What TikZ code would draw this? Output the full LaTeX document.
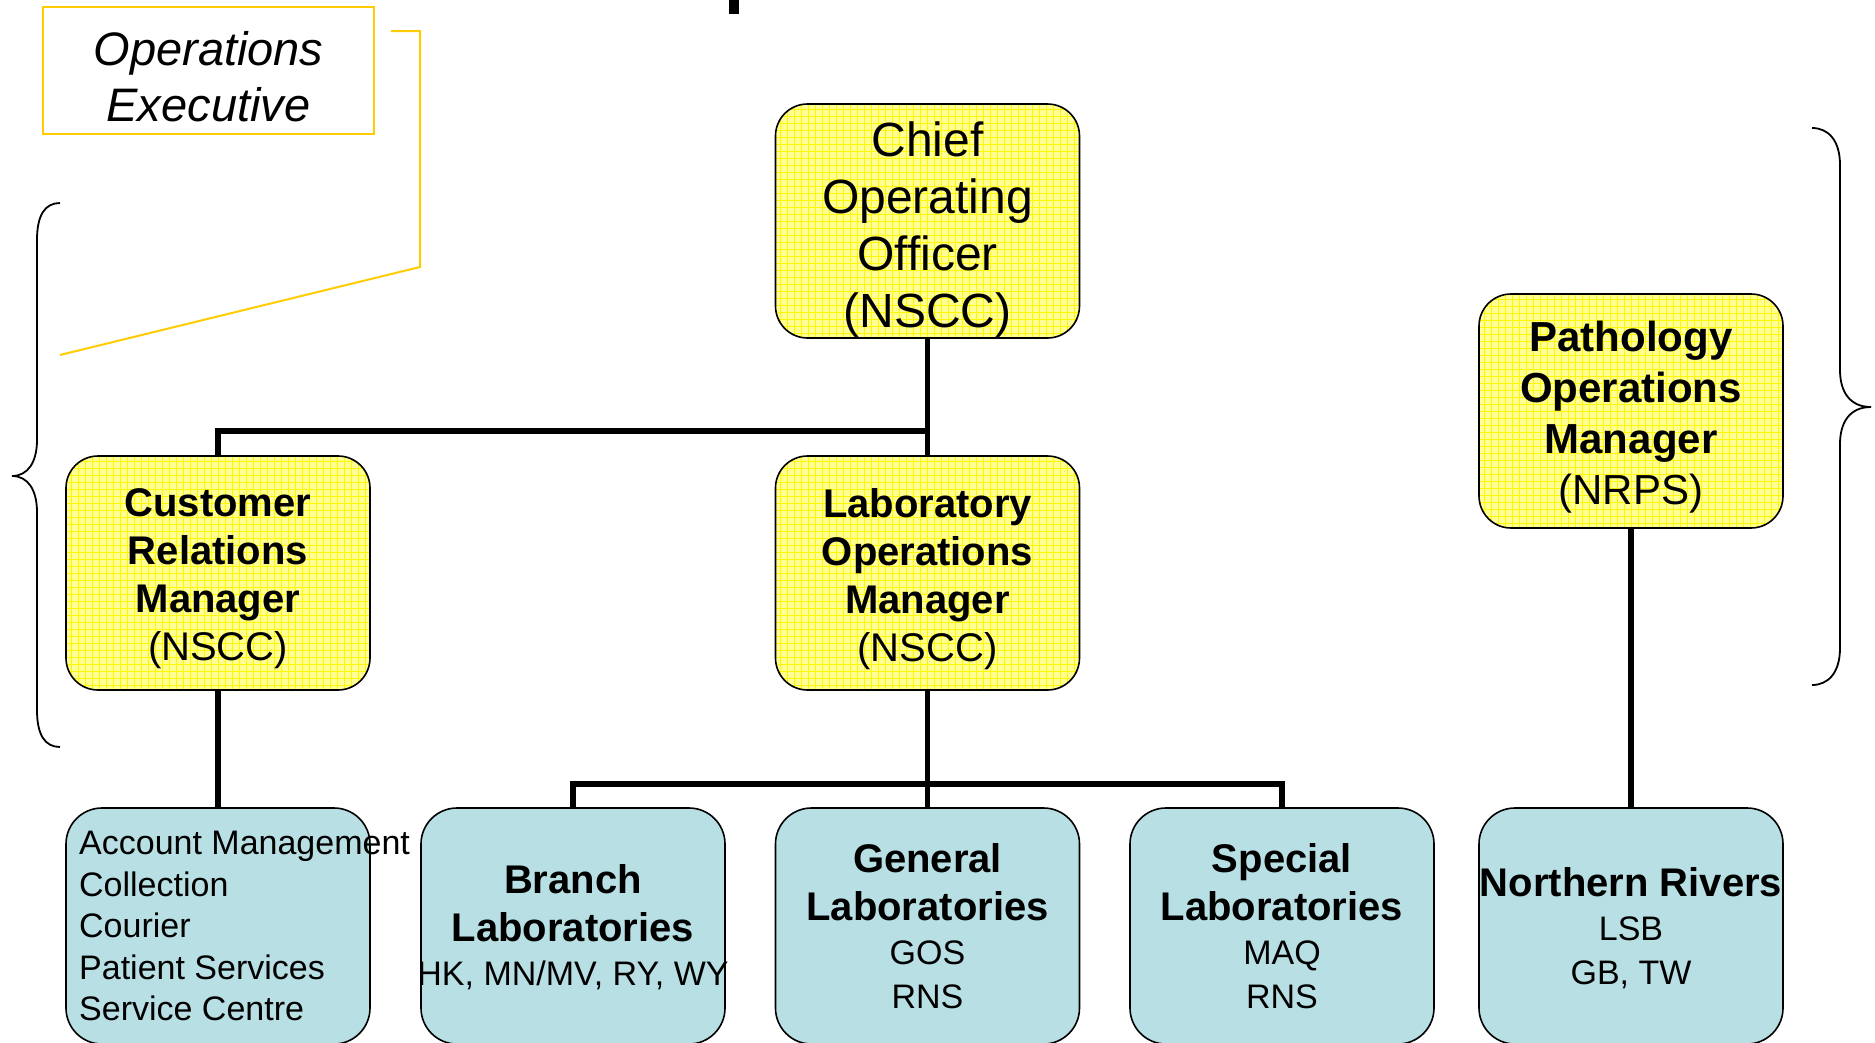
\documentclass[tikz,border=0pt]{standalone}
\usepackage{fontspec}
\setmainfont{Liberation Sans}
\definecolor{yfill}{RGB}{255,255,150}
\definecolor{ygrid}{RGB}{255,248,0}
\definecolor{bfill}{RGB}{184,223,227}
\definecolor{gold}{RGB}{255,204,0}
\begin{document}
\begin{tikzpicture}[x=1pt,y=-1pt,
  ybox/.style={draw=black,line width=1.6pt,rounded corners=32pt,fill=yfill,
    minimum width=304pt,minimum height=234pt,inner sep=0pt,
    path picture={\draw[ygrid,line width=0.6pt] (path picture bounding box.south west) grid[step=7pt] (path picture bounding box.north east);}},
  bbox/.style={draw=black,line width=1.6pt,rounded corners=36pt,fill=bfill,
    minimum width=304pt,minimum height=236pt,inner sep=0pt},
  txt/.style={inner sep=0pt,align=center},
  btxt/.style={inner sep=0pt,align=center,font=\fontsize{34}{44}\selectfont},
  conn/.style={line width=5.5pt,line join=miter},
  bracepath/.style={line width=1.8pt},
  callout/.style={draw=gold,line width=2pt}]
\useasboundingbox (0,0) rectangle (1875,1042);
\clip (0,0) rectangle (1875,1042);
\fill[white] (0,0) rectangle (1875,1042);

% stray mark from cut-off title
\fill[black] (729,0) rectangle (739,14);

% Operations Executive callout
\node[callout,fill=white,minimum width=331pt,minimum height=127pt,inner sep=0pt] (opsexec) at (208.5,70.5) {};
\node[txt,font=\fontsize{47}{56}\selectfont\itshape,yshift=-6pt] (opsexectext) at (opsexec) {Operations\\Executive};
\draw[callout] (391,31) -- (420,31) -- (420,267) -- (60,355);

% braces
\draw[bracepath] (60,203) .. controls (45,203) and (37,215) .. (37,240) -- (37,440)
  .. controls (37,462) and (28,476) .. (12,476) .. controls (28,476) and (37,490) .. (37,512)
  -- (37,710) .. controls (37,735) and (45,747) .. (60,747);
\draw[bracepath] (1812,128) .. controls (1828,128) and (1840,140) .. (1840,165) -- (1840,370)
  .. controls (1840,392) and (1850,407) .. (1871,407) .. controls (1850,407) and (1840,422) .. (1840,444)
  -- (1840,648) .. controls (1840,673) and (1828,685) .. (1812,685);

% yellow boxes
\node[ybox] (coo) at (927.5,221) {};
\node[ybox] (crm) at (218,573) {};
\node[ybox] (lom) at (927.5,573) {};
\node[ybox] (pom) at (1631,411) {};
\node[txt,font=\fontsize{48}{57}\selectfont,yshift=-9pt] (cootext) at (coo) {Chief\\Operating\\Officer\\(NSCC)};
\node[txt,font=\fontsize{40}{48}\selectfont,yshift=-6pt] (crmtext) at (crm) {\textbf{Customer}\\\textbf{Relations}\\\textbf{Manager}\\(NSCC)};
\node[txt,font=\fontsize{40}{48}\selectfont,yshift=-6pt] (lomtext) at (lom) {\textbf{Laboratory}\\\textbf{Operations}\\\textbf{Manager}\\(NSCC)};
\node[txt,font=\fontsize{42}{51}\selectfont,yshift=-6pt] (pomtext) at (pom) {\textbf{Pathology}\\\textbf{Operations}\\\textbf{Manager}\\(NRPS)};

% blue boxes
\node[bbox] (acc) at (218,926) {};
\node[bbox] (branch) at (573,926) {};
\node[bbox] (general) at (927.5,926) {};
\node[bbox] (special) at (1282,926) {};
\node[bbox] (nr) at (1631,926) {};

\node[txt,align=left,anchor=west,font=\fontsize{34}{41.5}\selectfont] (acctext) at (79,926)
  {Account Management\\Collection\\Courier\\Patient Services\\Service Centre};
\node[btxt] (branchtext) at (573,927)
  {{\fontsize{40}{48}\selectfont\bfseries Branch}\\[4pt]{\fontsize{40}{48}\selectfont\bfseries Laboratories}\\HK, MN/MV, RY, WY};
\node[btxt] (generaltext) at (927.5,926)
  {{\fontsize{40}{48}\selectfont\bfseries General}\\[4pt]{\fontsize{40}{48}\selectfont\bfseries Laboratories}\\GOS\\RNS};
\node[btxt] (specialtext) at (1282,926)
  {{\fontsize{40}{48}\selectfont\bfseries Special}\\[4pt]{\fontsize{40}{48}\selectfont\bfseries Laboratories}\\MAQ\\RNS};
\node[btxt] (nrtext) at (1631,928)
  {{\fontsize{40}{48}\selectfont\bfseries Northern Rivers}\\LSB\\GB, TW};

% connectors
\coordinate (j1) at (927.5,431);
\coordinate (bl) at (573,784);
\coordinate (sl) at (1282,784);
\draw[conn] (coo.south) -- (lom.north);
\draw[conn] (crm.north) |- (j1);
\draw[conn] (crm.south) -- (acc.north);
\draw[conn] (lom.south) -- (general.north);
\draw[conn] (branch.north) -- (bl) -- (sl) -- (special.north);
\draw[conn] (pom.south) -- (nr.north);
\end{tikzpicture}
\end{document}
